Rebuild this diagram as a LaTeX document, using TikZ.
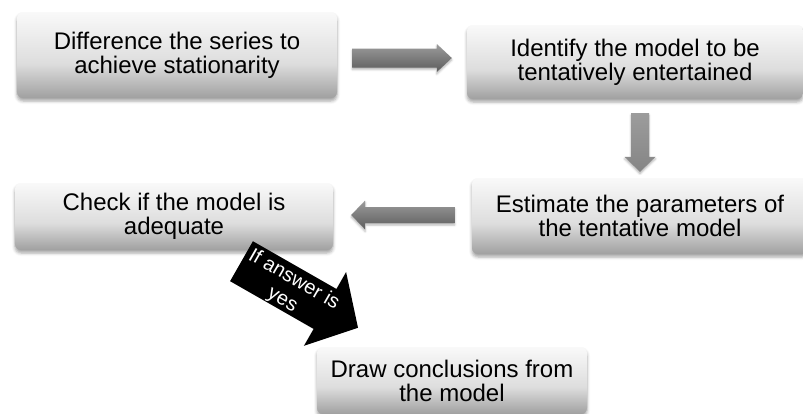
\documentclass[tikz,border=0pt]{standalone}
\usepackage{fontspec}
\setmainfont{Liberation Sans}
\usetikzlibrary{calc,shadows.blur}
\definecolor{btop}{HTML}{F9F9F9}
\definecolor{bmid}{HTML}{DDDDDD}
\definecolor{bbot}{HTML}{A0A0A0}
\definecolor{arrtop}{HTML}{9C9C9C}
\definecolor{arrbot}{HTML}{5C5C5C}
\definecolor{dartop}{HTML}{9C9C9C}
\definecolor{darbot}{HTML}{858585}
\pgfdeclareverticalshading{boxshade}{100bp}{color(0bp)=(bbot); color(25bp)=(bbot); color(45bp)=(bmid); color(75bp)=(btop); color(100bp)=(btop)}
\newcommand\blockarr[6]{%
  \coordinate (ba-hb) at ($(#2)!#5!(#1)$);
  \path[#6] ($(#1)!#3!90:(#2)$) -- ($(ba-hb)!#3!90:(#2)$) -- ($(ba-hb)!#4!90:(#2)$) -- (#2)
    -- ($(ba-hb)!#4!-90:(#2)$) -- ($(ba-hb)!#3!-90:(#2)$) -- ($(#1)!#3!-90:(#2)$) -- cycle;
}
\begin{document}
\begin{tikzpicture}[x=1bp,y=-1bp,
  box/.style={rounded corners=6bp, shade, shading=boxshade, inner sep=0pt, align=center,
    font=\fontsize{24bp}{24bp}\selectfont,
    blur shadow={shadow xshift=0bp, shadow yshift=-3bp, shadow blur radius=3bp, shadow opacity=35}},
  grayarr/.style={top color=arrtop, bottom color=arrbot,
    blur shadow={shadow xshift=0bp, shadow yshift=-2bp, shadow blur radius=2bp, shadow opacity=30}},
  downarr/.style={top color=dartop, bottom color=darbot,
    blur shadow={shadow xshift=0bp, shadow yshift=-2bp, shadow blur radius=2bp, shadow opacity=30}},
  blackarr/.style={fill=black},
  arrtext/.style={text=white, align=center, inner sep=0pt, font=\fontsize{20bp}{23bp}\selectfont}
]
\useasboundingbox (0,0) rectangle (803,413);
\node[box, minimum width=320bp, minimum height=86bp] (b1) at (177,55) {Difference the series to\\achieve stationarity};
\node[box, minimum width=336bp, minimum height=74bp] (b2) at (635,62) {Identify the model to be\\tentatively entertained};
\node[box, minimum width=336bp, minimum height=76bp] (b3) at (640,216) {Estimate the parameters of\\the tentative model};
\node[box, minimum width=318bp, minimum height=67bp] (b4) at (174,216.5) {Check if the model is\\adequate};
\node[box, minimum width=270bp, minimum height=67bp] (b5) at (452,380.5) {Draw conclusions from\\the model};

\coordinate (a1s) at ($(b1.east)+(15,3)$);
\coordinate (a1t) at ($(b2.west)+(-15,-4)$);
\coordinate (a2s) at ($(b2.south)+(5,14)$);
\coordinate (a2t) at ($(b3.north)+(0,-6)$);
\coordinate (a3s) at ($(b3.west)+(-17,-1)$);
\coordinate (a3t) at ($(b4.east)+(18,-1.5)$);
\coordinate (a4s) at ($(b4.south)+(67.5,11)$);
\coordinate (a4t) at ($(b5.north)+(-94,-19)$);

\blockarr{a1s}{a1t}{9.5bp}{14bp}{15bp}{grayarr}
\blockarr{a2s}{a2t}{9bp}{15.5bp}{15bp}{downarr}
\blockarr{a3s}{a3t}{8bp}{14.5bp}{14bp}{grayarr}
\blockarr{a4s}{a4t}{23bp}{42.5bp}{38bp}{blackarr}
\node[arrtext, rotate=-30] (t4) at ($(a4s)!0.4!(a4t)+(0,2)$) {If answer is\\yes};
\end{tikzpicture}
\end{document}
